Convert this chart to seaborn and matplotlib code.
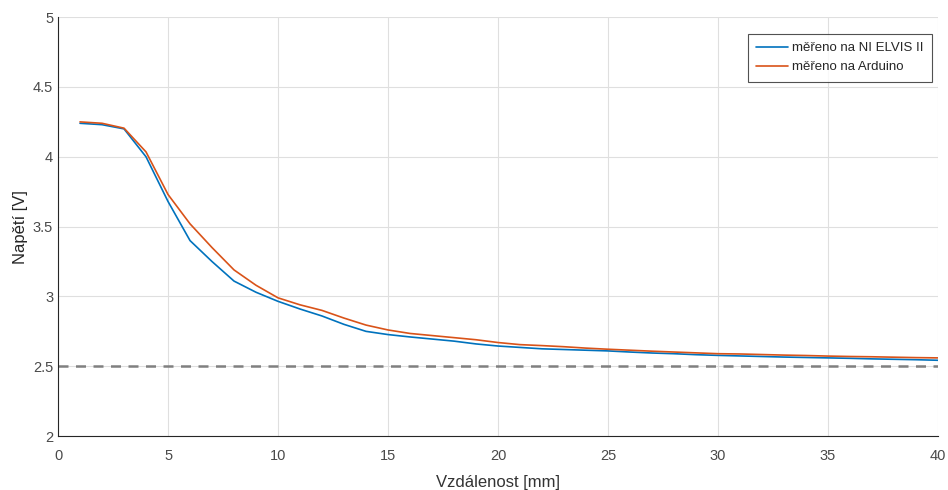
import numpy as np
import pandas as pd
import matplotlib
matplotlib.use("Agg")
import matplotlib.pyplot as plt
import seaborn as sns

# Distance [mm]
distance = list(range(1, 41))

# Voltage measured on NI ELVIS II [V]
elvis = [4.24, 4.23, 4.20, 4.00, 3.68, 3.40, 3.25, 3.11, 3.03, 2.965,
         2.91, 2.86, 2.80, 2.75, 2.727, 2.71, 2.695, 2.68, 2.66, 2.645,
         2.635, 2.625, 2.62, 2.615, 2.61, 2.602, 2.595, 2.59, 2.583, 2.578,
         2.574, 2.57, 2.566, 2.563, 2.56, 2.557, 2.553, 2.55, 2.547, 2.543]

# Voltage measured on Arduino [V]
arduino = [4.25, 4.24, 4.205, 4.035, 3.73, 3.52, 3.35, 3.19, 3.08, 2.99,
           2.94, 2.90, 2.845, 2.795, 2.76, 2.735, 2.72, 2.705, 2.69, 2.67,
           2.655, 2.648, 2.64, 2.63, 2.622, 2.615, 2.608, 2.602, 2.596, 2.59,
           2.588, 2.584, 2.58, 2.577, 2.573, 2.57, 2.568, 2.565, 2.562, 2.56]

series_names = ["měřeno na NI ELVIS II", "měřeno na Arduino"]
threshold = 2.5

x_ticks = [0, 5, 10, 15, 20, 25, 30, 35, 40]
y_ticks = [2, 2.5, 3, 3.5, 4, 4.5, 5]

df = pd.DataFrame({
    "Vzdálenost": distance * 2,
    "Napětí": elvis + arduino,
    "Měření": [series_names[0]] * len(distance) + [series_names[1]] * len(distance),
})

sns.set_style("white")
plt.rcParams["font.family"] = ["Liberation Sans", "DejaVu Sans"]

fig = plt.figure(figsize=(9.48, 4.90), dpi=100)
ax = fig.add_axes([0.0612, 0.110, 0.9283, 0.855])

ax.axhline(threshold, color="#808080", lw=1.8, ls=(0, (4, 3)), zorder=1)

sns.lineplot(data=df, x="Vzdálenost", y="Napětí", hue="Měření",
             palette=["#0072BD", "#D95319"], linewidth=1.2, ax=ax, zorder=3)

ax.set_xlim(0, 40)
ax.set_ylim(2, 5)
ax.set_xticks(x_ticks)
ax.set_yticks(y_ticks)
ax.set_xticklabels([str(t) for t in x_ticks])
ax.set_yticklabels([f"{t:g}" for t in y_ticks])

ax.grid(True, color="#dfdfdf", lw=0.8)
ax.set_axisbelow(True)
for side in ["top", "right"]:
    ax.spines[side].set_visible(False)
for side in ["left", "bottom"]:
    ax.spines[side].set_color("#262626")
    ax.spines[side].set_linewidth(0.8)

ax.tick_params(direction="in", length=5, width=0.8, color="#262626",
               labelsize=10.5, labelcolor="#4a4a4a")
ax.tick_params(axis="x", pad=9)
ax.tick_params(axis="y", pad=3.5)

ax.set_xlabel("Vzdálenost [mm]", fontsize=12, color="#333333", labelpad=9)
ax.set_ylabel("Napětí [V]", fontsize=12, color="#262626", labelpad=3.5)

leg = ax.legend(loc="upper right", bbox_to_anchor=(0.9975, 0.97), fontsize=9.5,
                frameon=True, fancybox=False, edgecolor="#262626",
                handlelength=2.4, handletextpad=0.3, borderpad=0.65,
                labelspacing=0.5, borderaxespad=0.3, title=None)
leg.get_frame().set_linewidth(0.8)

fig.savefig("out.png", dpi=100)
